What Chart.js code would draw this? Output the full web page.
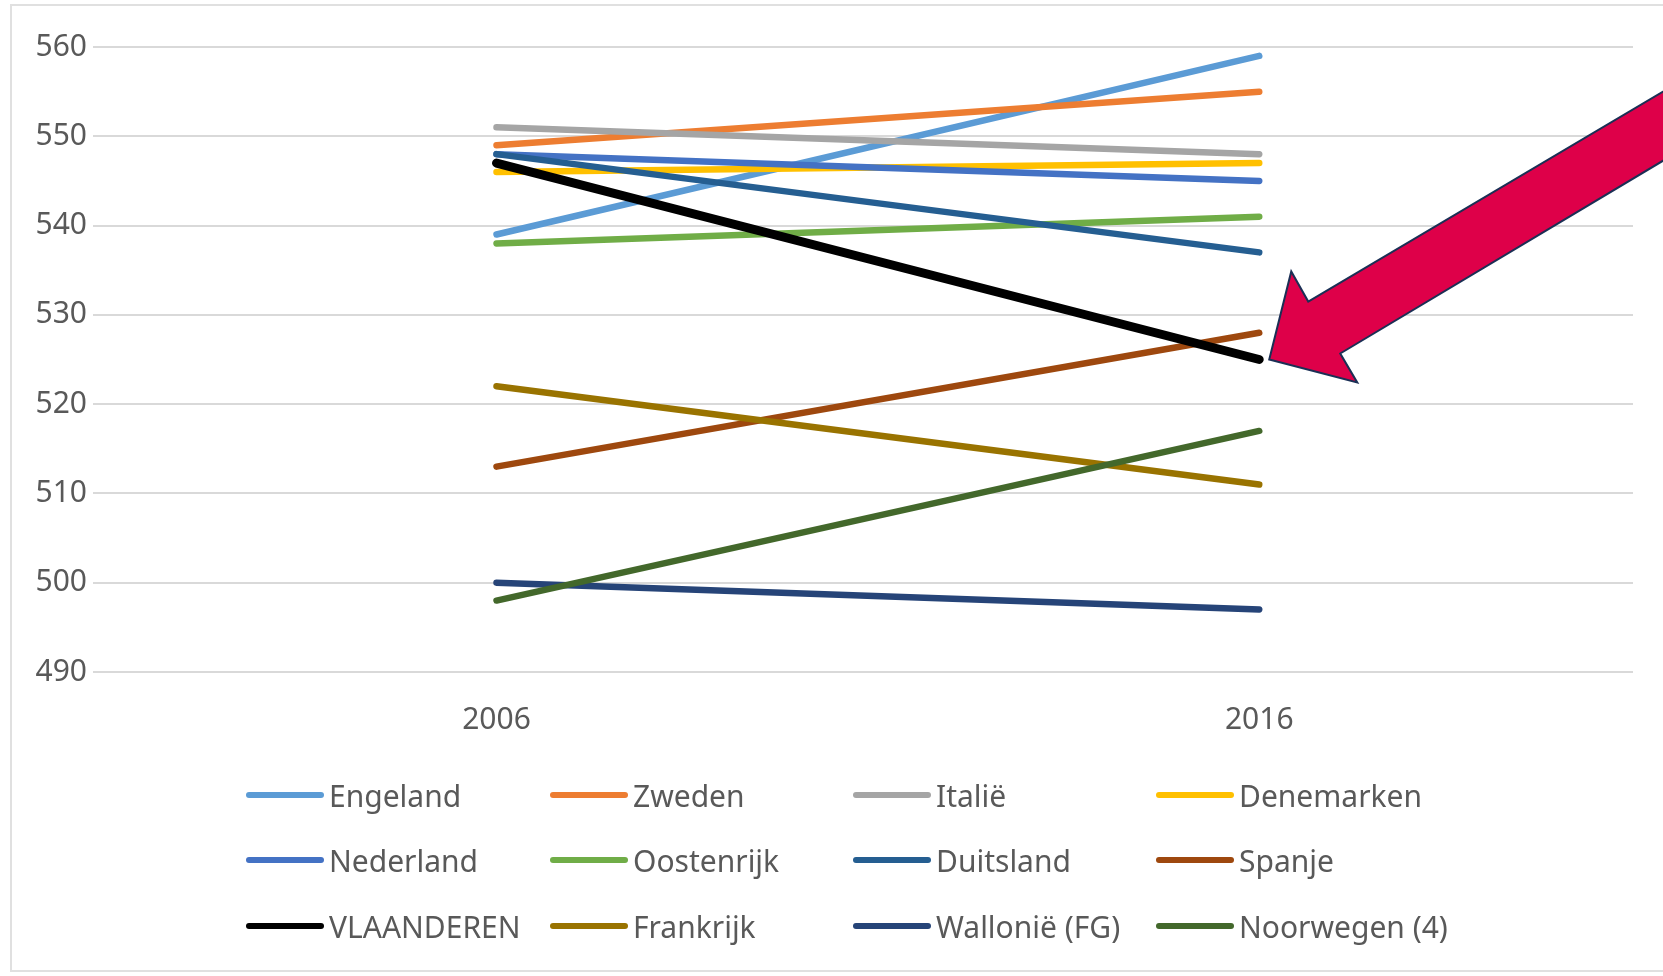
<!DOCTYPE html>
<html>
<head>
<meta charset="utf-8">
<script src="https://cdn.jsdelivr.net/npm/chart.js@4.4.1/dist/chart.umd.min.js"></script>
<style>
  body { margin: 0; background: #fff; font-family: "Noto Sans", sans-serif; }
  #wrap { position: relative; width: 1663px; height: 976px; overflow: hidden; }
  #frame { position: absolute; left: 10px; top: 4px; width: 1680px; height: 968px; border: 2px solid #e0e0e0; box-sizing: border-box; }
  #c { position: absolute; left: 0; top: 0; }
  .lg { position: absolute; height: 40px; display: flex; align-items: center; font-size: 30px; color: #595959; white-space: nowrap; }
  .lg span.sw { display: inline-block; width: 78px; height: 6px; border-radius: 3px; margin-right: 5px; }
</style>
</head>
<body>
<div id="wrap">
  <div id="frame"></div>
  <canvas id="c" width="1663" height="976"></canvas>
  <div id="legend"></div>
</div>
<script>
// jaren en landen
const years = [2006, 2016];
const countries = ['Engeland', 'Zweden', 'Italië', 'Denemarken', 'Nederland', 'Oostenrijk',
                   'Duitsland', 'Spanje', 'VLAANDEREN', 'Frankrijk', 'Wallonië (FG)', 'Noorwegen (4)'];

// scores 2006 en 2016 (in dezelfde volgorde als countries)
const scores2006 = [539, 549, 551, 546, 548, 538, 548, 513, 547, 522, 500, 498];
const scores2016 = [559, 555, 548, 547, 545, 541, 537, 528, 525, 511, 497, 517];

const colors = ['#5B9BD5', '#ED7D31', '#A5A5A5', '#FFC000', '#4472C4', '#70AD47',
                '#255E91', '#9E480E', '#000000', '#997300', '#264478', '#43682B'];

const yTicks = [490, 500, 510, 520, 530, 540, 550, 560];
const highlight = 'VLAANDEREN';

const datasets = countries.map((name, i) => ({
    label: name,
    data: [{ x: years[0], y: scores2006[i] }, { x: years[1], y: scores2016[i] }],
    borderColor: colors[i],
    backgroundColor: colors[i],
    borderWidth: name === highlight ? 9 : 6.5,
    borderCapStyle: 'round',
    pointRadius: 0,
    order: countries.length - i // later series on top, zoals in Excel
}));

// rode pijl naar het eindpunt van Vlaanderen
const arrowPlugin = {
    id: 'arrow',
    afterDatasetsDraw(chart) {
        const idx = countries.indexOf(highlight);
        const pt = chart.getDatasetMeta(idx).data[1];
        const tx = pt.x + 10, ty = pt.y;
        // vorm relatief t.o.v. de punt van de pijl
        const shape = [[0, 0], [22, -88], [39, -58], [431, -290], [431, -221], [71, -6], [88, 23]];
        const ctx = chart.ctx;
        ctx.save();
        ctx.beginPath();
        shape.forEach(([dx, dy], k) => k ? ctx.lineTo(tx + dx, ty + dy) : ctx.moveTo(tx + dx, ty + dy));
        ctx.closePath();
        ctx.fillStyle = '#DE0049';
        ctx.fill();
        ctx.lineWidth = 2;
        ctx.strokeStyle = '#1B2F55';
        ctx.stroke();
        ctx.restore();
    }
};

new Chart(document.getElementById('c').getContext('2d'), {
    type: 'line',
    data: { datasets: datasets },
    options: {
        responsive: false,
        animation: false,
        layout: { padding: { left: 0, right: 30, top: 47, bottom: 214 } },
        plugins: { legend: { display: false }, tooltip: { enabled: false } },
        scales: {
            x: {
                type: 'linear',
                min: 2000.71,
                max: 2020.9,
                afterBuildTicks: axis => { axis.ticks = years.map(v => ({ value: v })); },
                afterFit: s => { s.height = 90; },
                grid: { display: false },
                border: { display: false },
                ticks: {
                    padding: 22,
                    color: '#595959',
                    font: { family: 'Noto Sans', size: 30 },
                    callback: v => String(v)
                }
            },
            y: {
                min: 490,
                max: 560,
                afterBuildTicks: axis => { axis.ticks = yTicks.map(v => ({ value: v })); },
                afterFit: s => { s.width = 93; },
                grid: { color: '#d9d9d9', lineWidth: 2, drawTicks: false },
                border: { display: false },
                ticks: {
                    padding: 6,
                    color: '#595959',
                    font: { family: 'Noto Sans', size: 30 }
                }
            }
        }
    },
    plugins: [arrowPlugin]
});

// legenda: 4 kolommen, 3 rijen
const legend = document.getElementById('legend');
const colX = [246, 550, 853, 1156];
const rowY = [795, 860, 926];
countries.forEach((name, i) => {
    const el = document.createElement('div');
    el.className = 'lg';
    el.style.left = colX[i % 4] + 'px';
    el.style.top = (rowY[Math.floor(i / 4)] - 20) + 'px';
    el.innerHTML = '<span class="sw" style="background:' + colors[i] + '"></span>' + name;
    legend.appendChild(el);
});
</script>
</body>
</html>
